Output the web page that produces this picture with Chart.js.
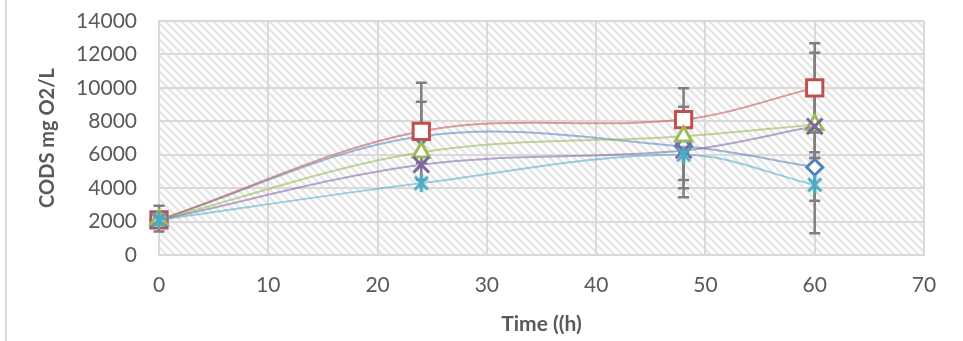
<!DOCTYPE html>
<html>
<head>
<meta charset="utf-8">
<title>CODS over time</title>
<script src="https://cdn.jsdelivr.net/npm/chart.js@4.4.1/dist/chart.umd.min.js"></script>
<style>
  body { margin: 0; background: #fff; }
  .wrap { position: relative; width: 963px; height: 341px; }
  .frame { position: absolute; left: 5px; top: 0; width: 2px; height: 341px; background: #d9d9d9; }
  canvas { position: absolute; left: 0; top: 0; }
</style>
</head>
<body>
<div class="wrap">
  <div class="frame"></div>
  <canvas id="codChart" width="963" height="341"></canvas>
</div>
<script>
// sampling times (h)
const times = [0, 24, 48, 60];

// CODS (mg O2/L) per series
const series1 = [2100, 7100, 6500, 5250];
const series2 = [2100, 7400, 8100, 10000];
const series3 = [2100, 6150, 7100, 7800];
const series4 = [2100, 5400, 6250, 7700];
const series5 = [2100, 4300, 6000, 4200];

// error bar lengths (plus / minus)
const errUp1 = [0, 2070, 0, 900];
const errDown1 = [0, 1600, 2500, 0];
const errUp2 = [850, 2900, 1870, 2670];
const errDown2 = [700, 2900, 1870, 2670];
const errUp3 = [0, 0, 1770, 4300];
const errDown3 = [0, 0, 1000, 2000];
const errUp4 = [0, 0, 0, 2500];
const errDown4 = [0, 0, 2800, 6400];
const errUp5 = [0, 0, 0, 1600];
const errDown5 = [0, 0, 1510, 950];

const xTicks = [0, 10, 20, 30, 40, 50, 60, 70];
const yTicks = [0, 2000, 4000, 6000, 8000, 10000, 12000, 14000];

const textColor = '#595959';
const gridColor = '#d9d9d9';

function toPoints(vals) {
    return times.map(function (t, i) { return { x: t, y: vals[i] }; });
}

// asterisk marker: an X with a vertical stroke
function starMarker(color) {
    const c = document.createElement('canvas');
    c.width = 20; c.height = 20;
    const g = c.getContext('2d');
    g.strokeStyle = color;
    g.lineWidth = 3;
    g.beginPath();
    g.moveTo(3.5, 3.5); g.lineTo(16.5, 16.5);
    g.moveTo(16.5, 3.5); g.lineTo(3.5, 16.5);
    g.moveTo(10, 1); g.lineTo(10, 19);
    g.stroke();
    return c;
}

// light diagonal hatching for the plot area
function hatchPattern(ctx) {
    const s = 8;
    const c = document.createElement('canvas');
    c.width = s; c.height = s;
    const g = c.getContext('2d');
    g.fillStyle = '#ffffff';
    g.fillRect(0, 0, s, s);
    g.strokeStyle = '#e6e6e6';
    g.lineWidth = 2.5;
    g.beginPath();
    for (let k = -1; k <= 1; k++) {
        g.moveTo(-s, -s + k * s);
        g.lineTo(2 * s, 2 * s + k * s);
    }
    g.stroke();
    return ctx.createPattern(c, 'repeat');
}

const plotBackground = {
    id: 'plotBackground',
    beforeDraw(chart) {
        const { ctx, chartArea } = chart;
        ctx.save();
        ctx.fillStyle = hatchPattern(ctx);
        ctx.fillRect(chartArea.left, chartArea.top, chartArea.right - chartArea.left, chartArea.bottom - chartArea.top);
        ctx.restore();
    }
};

const errorBars = {
    id: 'errorBars',
    beforeDatasetsDraw(chart) {
        const { ctx, scales } = chart;
        ctx.save();
        ctx.strokeStyle = '#7f7f7f';
        ctx.lineWidth = 2.5;
        chart.data.datasets.forEach(function (ds) {
            ds.data.forEach(function (p, i) {
                const up = ds.errUp[i], down = ds.errDown[i];
                if (!up && !down) return;
                const x = scales.x.getPixelForValue(p.x);
                const yTop = scales.y.getPixelForValue(p.y + up);
                const yBot = scales.y.getPixelForValue(p.y - down);
                ctx.beginPath();
                ctx.moveTo(x, yTop); ctx.lineTo(x, yBot);
                if (up) { ctx.moveTo(x - 5.5, yTop); ctx.lineTo(x + 5.5, yTop); }
                if (down) { ctx.moveTo(x - 5.5, yBot); ctx.lineTo(x + 5.5, yBot); }
                ctx.stroke();
            });
        });
        ctx.restore();
    }
};

function makeSeries(label, vals, up, down, color, lineColor, style, radius, order) {
    return {
        label: label,
        data: toPoints(vals),
        errUp: up,
        errDown: down,
        showLine: true,
        tension: 0.35,
        borderColor: lineColor,
        borderWidth: 2,
        pointStyle: style,
        pointRadius: radius,
        pointHoverRadius: radius,
        pointBorderColor: color,
        pointBackgroundColor: '#ffffff',
        pointBorderWidth: 3,
        clip: false,
        order: order
    };
}

// keep the plot area exactly where the layout padding puts it
function noEdgePadding(scale) {
    scale.paddingTop = 0;
    scale.paddingBottom = 0;
    scale.paddingLeft = 0;
    scale.paddingRight = 0;
}

const ctx = document.getElementById('codChart').getContext('2d');
const codChart = new Chart(ctx, {
    type: 'scatter',
    data: {
        datasets: [
            makeSeries('Series1', series1, errUp1, errDown1, '#4f81bd', 'rgba(79,129,189,0.55)', 'rectRot', 8, 5),
            makeSeries('Series2', series2, errUp2, errDown2, '#c0504d', 'rgba(192,80,77,0.55)', 'rect', 11.5, 4),
            makeSeries('Series3', series3, errUp3, errDown3, '#9bbb59', 'rgba(155,187,89,0.6)', 'triangle', 9.5, 3),
            makeSeries('Series4', series4, errUp4, errDown4, '#8064a2', 'rgba(128,100,162,0.55)', 'crossRot', 11, 2),
            makeSeries('Series5', series5, errUp5, errDown5, '#4bacc6', 'rgba(75,172,198,0.55)', starMarker('#4bacc6'), 10, 1)
        ]
    },
    options: {
        responsive: false,
        devicePixelRatio: 1,
        animation: false,
        layout: { padding: { left: 0, right: 39, top: 21, bottom: 0 } },
        plugins: {
            legend: { display: false },
            tooltip: { enabled: false }
        },
        scales: {
            x: {
                type: 'linear',
                min: 0,
                max: 70,
                afterFit: function (scale) { scale.height = 86; noEdgePadding(scale); },
                afterBuildTicks: function (scale) {
                    scale.ticks = xTicks.map(function (v) { return { value: v }; });
                },
                grid: { color: gridColor, lineWidth: 2, drawTicks: false },
                border: { color: gridColor, width: 2 },
                ticks: {
                    padding: 18,
                    color: textColor,
                    font: { family: 'Lato', size: 21 },
                    callback: function (v) { return String(v); }
                },
                title: {
                    display: true,
                    text: 'Time ((h)',
                    color: textColor,
                    font: { family: 'Lato', size: 21, weight: 'bold' },
                    padding: { top: 0, bottom: 4 }
                }
            },
            y: {
                min: 0,
                max: 14000,
                afterFit: function (scale) { scale.width = 159; noEdgePadding(scale); },
                afterBuildTicks: function (scale) {
                    scale.ticks = yTicks.map(function (v) { return { value: v }; });
                },
                grid: { color: gridColor, lineWidth: 2, drawTicks: false },
                border: { color: gridColor, width: 2 },
                ticks: {
                    padding: 22,
                    color: textColor,
                    font: { family: 'Lato', size: 21 },
                    callback: function (v) { return String(v); }
                },
                title: {
                    display: true,
                    text: 'CODS mg O2/L',
                    color: textColor,
                    font: { family: 'Lato', size: 20, weight: 'bold' },
                    padding: { top: 36, bottom: 0 }
                }
            }
        }
    },
    plugins: [plotBackground, errorBars]
});
</script>
</body>
</html>
